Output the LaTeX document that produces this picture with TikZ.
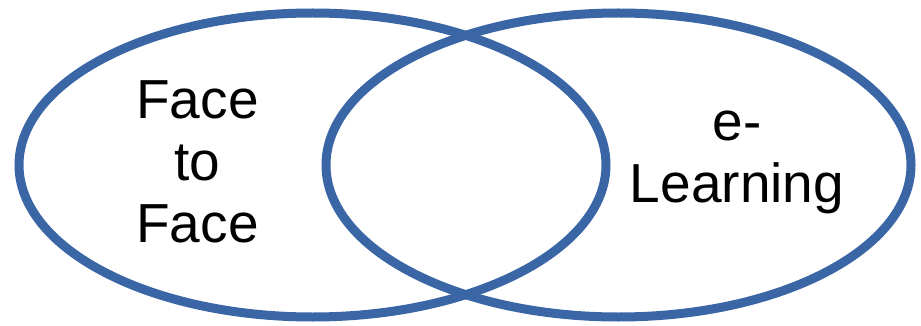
\documentclass[tikz,border=0pt]{standalone}
\usepackage{fontspec}
\setmainfont{Liberation Sans}
\definecolor{vennblue}{RGB}{58,102,166}
\begin{document}
\begin{tikzpicture}[x=1pt,y=-1pt,
  ring/.style={draw=vennblue,line width=9pt},
  lbl/.style={align=center,inner sep=0pt,font=\fontsize{55}{62}\selectfont,text=black}]
\useasboundingbox (0,0) rectangle (921,326);
\draw[ring] (312.5,165) ellipse [x radius=293.5, y radius=152];
\draw[ring] (618.5,165) ellipse [x radius=292.5, y radius=152];
\node[lbl,anchor=base] (ftf) at (197.5,242) {Face\\to\\Face};
\node[lbl,anchor=base] (el) at (737,202) {e-\\Learning};
\end{tikzpicture}
\end{document}
